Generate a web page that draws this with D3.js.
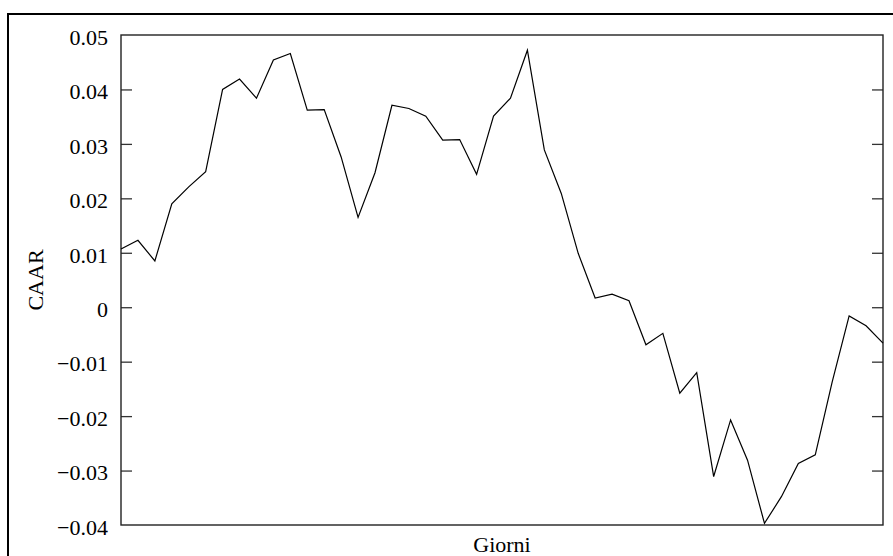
<!DOCTYPE html>
<html>
<head>
<meta charset="utf-8">
<script src="https://cdn.jsdelivr.net/npm/d3@7"></script>
<style>
  html, body { margin: 0; padding: 0; background: #fff; }
  svg { display: block; }
  text { font-family: "Liberation Serif", "Times New Roman", serif; fill: #000; }
</style>
</head>
<body>
<svg id="chart" width="893" height="556"></svg>
<script>
// Data
const days = [1,2,3,4,5,6,7,8,9,10,11,12,13,14,15,16,17,18,19,20,21,22,23,24,25,26,27,28,29,30,31,32,33,34,35,36,37,38,39,40,41,42,43,44,45,46];
const caar = [0.0107, 0.0123, 0.0085, 0.0190, 0.0221, 0.0249, 0.0400, 0.0419, 0.0384, 0.0454,
              0.0466, 0.0362, 0.0363, 0.0276, 0.0165, 0.0247, 0.0371, 0.0365, 0.0351, 0.0307,
              0.0308, 0.0244, 0.0351, 0.0384, 0.0472, 0.0289, 0.0209, 0.0099, 0.0017, 0.0024,
              0.0012, -0.0069, -0.0048, -0.0158, -0.0120, -0.0311, -0.0207, -0.0281, -0.0397, -0.0348,
              -0.0287, -0.0271, -0.0137, -0.0016, -0.0034, -0.0066];
const yTicks = [-0.04, -0.03, -0.02, -0.01, 0, 0.01, 0.02, 0.03, 0.04, 0.05];
const yDomain = [-0.04, 0.05];
const yLabel = "CAAR";
const xLabel = "Giorni";

const svg = d3.select("#chart");
const L = 121, R = 883, T = 35, B = 525;

// Outer frame
svg.append("rect")
  .attr("x", 8).attr("y", 14).attr("width", 920).attr("height", 620)
  .attr("fill", "none").attr("stroke", "#000").attr("stroke-width", 2);

const x = d3.scaleLinear().domain(d3.extent(days)).range([L, R]);
const y = d3.scaleLinear().domain(yDomain).range([B, T]);

const fmt = d => d === 0 ? "0" : d3.format(".2f")(d);

// Left axis (ticks inward)
const leftAxis = d3.axisLeft(y).tickValues(yTicks).tickSize(-11).tickPadding(24).tickFormat(fmt);
const gl = svg.append("g").attr("transform", `translate(${L},0)`).call(leftAxis);
gl.select(".domain").remove();
gl.selectAll(".tick line").attr("stroke", "#333").attr("stroke-width", 1.3)
  .filter(d => d === yDomain[0] || d === yDomain[1]).remove();
gl.selectAll(".tick text")
  .attr("font-family", "Liberation Serif, Times New Roman, serif")
  .attr("font-size", 22).attr("dy", "0.42em").attr("x", -13);

// Right axis (ticks inward, no labels)
const rightAxis = d3.axisRight(y).tickValues(yTicks).tickSize(-11).tickFormat("");
const gr = svg.append("g").attr("transform", `translate(${R},0)`).call(rightAxis);
gr.select(".domain").remove();
gr.selectAll(".tick line").attr("stroke", "#333").attr("stroke-width", 1.3)
  .filter(d => d === yDomain[0] || d === yDomain[1]).remove();

// Plot frame
svg.append("rect")
  .attr("x", L).attr("y", T).attr("width", R - L).attr("height", B - T)
  .attr("fill", "none").attr("stroke", "#222").attr("stroke-width", 1.4);

// Line
const line = d3.line().x((d, i) => x(days[i])).y(d => y(d));
svg.append("path")
  .datum(caar)
  .attr("d", line)
  .attr("fill", "none")
  .attr("stroke", "#000")
  .attr("stroke-width", 1.2)
  .attr("stroke-linejoin", "miter");

// Axis titles
svg.append("text")
  .attr("transform", "translate(42.5,280) rotate(-90)")
  .attr("text-anchor", "middle")
  .attr("font-size", 22)
  .text(yLabel);

svg.append("text")
  .attr("x", (L + R) / 2).attr("y", 552)
  .attr("text-anchor", "middle")
  .attr("font-size", 22)
  .text(xLabel);
</script>
</body>
</html>
